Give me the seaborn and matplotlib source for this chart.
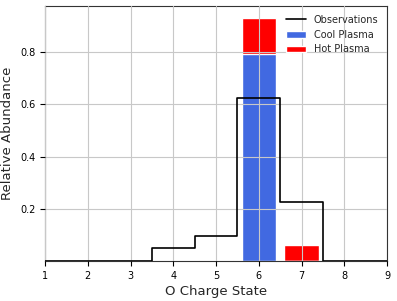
import matplotlib
matplotlib.use("Agg")
import matplotlib.pyplot as plt
import seaborn as sns
import pandas as pd
import numpy as np

charge_states = [1, 2, 3, 4, 5, 6, 7, 8, 9]
observations = [0.0, 0.0, 0.0, 0.049, 0.097, 0.623, 0.227, 0.0, 0.0]
cool_plasma = [0.0, 0.0, 0.0, 0.0, 0.0, 0.795, 0.0, 0.0, 0.0]
hot_plasma = [0.0, 0.0, 0.0, 0.0, 0.003, 0.136, 0.060, 0.003, 0.0]

total = [c + h for c, h in zip(cool_plasma, hot_plasma)]
df = pd.DataFrame({"state": charge_states, "obs": observations,
                   "cool": cool_plasma, "hot": hot_plasma, "total": total})

sns.set_style("white")
plt.rcParams["font.family"] = ["DejaVu Sans"]

fig = plt.figure(figsize=(3.97, 3.01), dpi=100)
ax = fig.add_axes([45/397, 40/301, 342/397, 255/301])

sns.barplot(data=df, x="state", y="total", native_scale=True, width=0.8,
            color="red", saturation=1, ax=ax, label="Hot Plasma", zorder=1)
sns.barplot(data=df, x="state", y="cool", native_scale=True, width=0.8,
            color="royalblue", saturation=1, ax=ax, label="Cool Plasma", zorder=1)
sns.lineplot(data=df, x="state", y="obs", drawstyle="steps-mid", color="black",
             linewidth=1.2, ax=ax, label="Observations", zorder=3)

ax.set_xlim(1, 9)
ax.set_ylim(0, max(total) * 1.05)
ax.set_xticks(charge_states)
ax.set_yticks([0.2, 0.4, 0.6, 0.8])
ax.tick_params(labelsize=7, length=3.5, width=0.8, colors="black", bottom=True, left=True)
ax.grid(True, color="#c8c8c8", linewidth=0.8)
ax.set_axisbelow(False)
for s in ax.spines.values():
    s.set_color("#333333")
    s.set_linewidth(0.8)
ax.set_xlabel("O Charge State", fontsize=9.5, labelpad=3)
ax.set_ylabel("Relative Abundance", fontsize=9.5, labelpad=4)

h, l = ax.get_legend_handles_labels()
order = [l.index("Observations"), l.index("Cool Plasma"), l.index("Hot Plasma")]
ax.legend([h[i] for i in order], [l[i] for i in order], loc="upper right",
          frameon=False, fontsize=7)

fig.savefig("out.png", dpi=100)
